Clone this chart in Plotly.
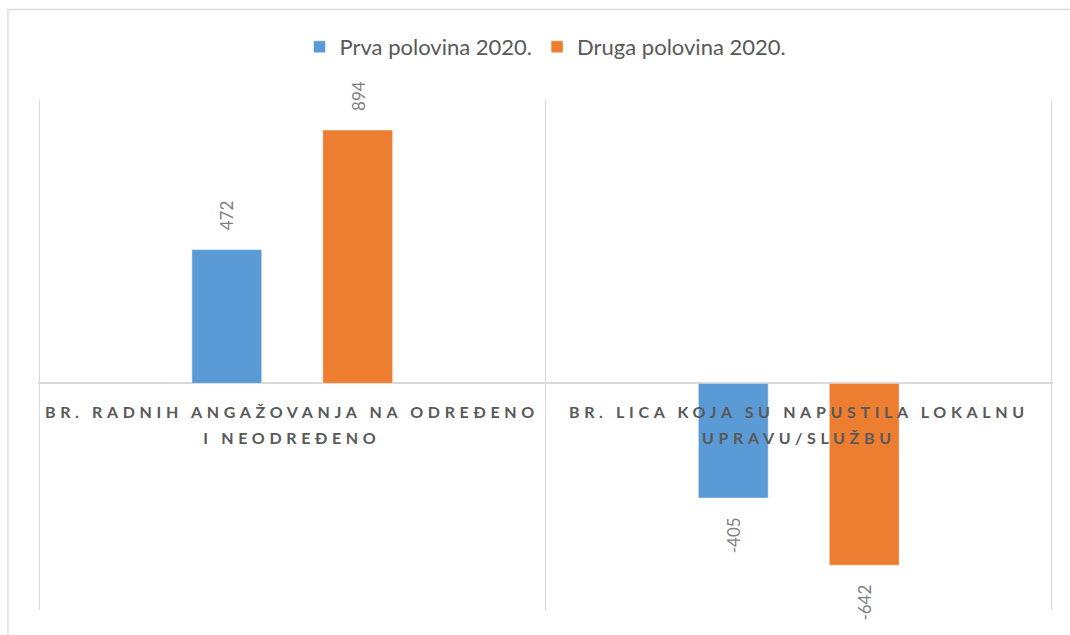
import plotly.graph_objects as go

kategorije = ["BR. RADNIH ANGAŽOVANJA NA ODREĐENO<br>I NEODREĐENO",
              "BR. LICA KOJA SU NAPUSTILA LOKALNU<br>UPRAVU/SLUŽBU"]
prva = [472, -405]
druga = [894, -642]
serije = ["Prva polovina 2020.", "Druga polovina 2020."]
boje = ["#5b9bd5", "#ed7d31"]

W, H = 1070, 635
ml, mr, mt, mb = 38, 17, 100, 25
bargap = 0.483

data = [go.Bar(x=kategorije, y=prva, name=serije[0],
               marker=dict(color=boje[0], line=dict(color="#ffffff", width=0.5))),
        go.Bar(x=kategorije, y=druga, name=serije[1],
               marker=dict(color=boje[1], line=dict(color="#ffffff", width=0.5)))]

layout = go.Layout(
    width=W, height=H,
    paper_bgcolor="white", plot_bgcolor="white",
    margin=dict(l=ml, r=mr, t=mt, b=mb, autoexpand=False),
    font=dict(family="Lato, Open Sans, sans-serif", color="#595959"),
    barmode="group", bargap=bargap, bargroupgap=0.466,
    legend=dict(orientation="h", x=0.5, xanchor="center", y=1.104, yanchor="middle",
                font=dict(size=22, color="#595959"), itemwidth=30, traceorder="normal"),
    xaxis=dict(showticklabels=False, ticks="", tickson="boundaries", range=[-0.502, 1.502],
               showgrid=True, gridcolor="#d9d9d9", gridwidth=1.3, showline=False,
               zeroline=False),
    yaxis=dict(range=[-800, 1000], showticklabels=False, showgrid=False,
               zeroline=True, zerolinecolor="#d9d9d9", zerolinewidth=1.5, ticks=""),
    showlegend=True,
)

fig = go.Figure(data=data, layout=layout)

# data labels (rotated, outside the bar end)
kat_px = (W - ml - mr) / 2
pomak = (1 - bargap) / 2 * kat_px / 2
for vrijednosti, smjer in [(prva, -1), (druga, 1)]:
    for k, v in zip(kategorije, vrijednosti):
        fig.add_annotation(x=k, y=v, text=str(v), showarrow=False, textangle=-90,
                           xshift=smjer * pomak,
                           yanchor="bottom" if v > 0 else "top",
                           yshift=17 if v > 0 else -17,
                           font=dict(size=17, color="#7f7f7f"))

for k in kategorije:
    fig.add_annotation(x=k, y=0, text="<b>" + k + "</b>", showarrow=False,
                       yanchor="top", yshift=-17,
                       font=dict(size=16, color="#595959", family="Lato, sans-serif"))

fig.add_shape(type="rect", xref="paper", yref="paper",
              x0=-0.0296, x1=1.03, y0=-0.1, y1=1.1775,
              line=dict(color="#d9d9d9", width=1.3), fillcolor="rgba(0,0,0,0)", layer="below")

js = """
document.body.style.margin = '0';
document.querySelectorAll('.annotation-text').forEach(function(t){
  if (t.textContent.length > 8) {
    t.style.letterSpacing = '4.65px';
    var linije = t.querySelectorAll('tspan.line');
    if (linije.length > 1) { linije[1].setAttribute('dy', '26'); }
  }
});
"""
fig.write_html("out.html", post_script=js, config={"displayModeBar": False})
